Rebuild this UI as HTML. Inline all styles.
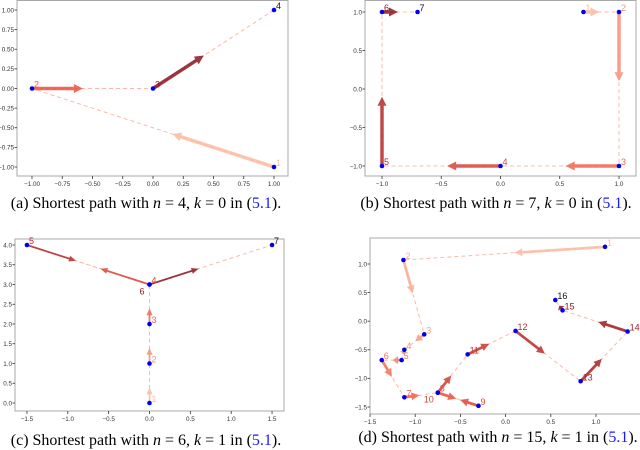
<!DOCTYPE html>
<html><head><meta charset="utf-8">
<style>
body{margin:0;background:#fff;width:640px;height:450px;overflow:hidden}
svg{display:block}
.tick{font:6.3px "Liberation Sans",sans-serif;fill:#333}
.cap{font:16px "Liberation Serif",serif;fill:#000}
.lbl{font:9px "Liberation Sans",sans-serif}
</style></head>
<body>
<svg id="fig" width="640" height="450" viewBox="0 0 640 450">
<text class="cap" x="146" y="208" text-anchor="middle">(a) Shortest path with <tspan font-style="italic">n</tspan> = 4, <tspan font-style="italic">k</tspan> = 0 in (<tspan fill="#1a1aff">5.1</tspan>).</text>
<text class="cap" x="496" y="208" text-anchor="middle">(b) Shortest path with <tspan font-style="italic">n</tspan> = 7, <tspan font-style="italic">k</tspan> = 0 in (<tspan fill="#1a1aff">5.1</tspan>).</text>
<text class="cap" x="146" y="445" text-anchor="middle">(c) Shortest path with <tspan font-style="italic">n</tspan> = 6, <tspan font-style="italic">k</tspan> = 1 in (<tspan fill="#1a1aff">5.1</tspan>).</text>
<text class="cap" x="498" y="442" text-anchor="middle">(d) Shortest path with <tspan font-style="italic">n</tspan> = 15, <tspan font-style="italic">k</tspan> = 1 in (<tspan fill="#1a1aff">5.1</tspan>).</text>
</svg>
<script>
// panel (a)
const aX=[1,-1,0,1];
const aY=[-1,0,0,1];
const aXTicks=[-1,-0.75,-0.5,-0.25,0,0.25,0.5,0.75,1];
const aYTicks=[1,0.75,0.5,0.25,0,-0.25,-0.5,-0.75,-1];
// panel (b)
const bX=[0.7,1,1,0,-1,-1,-0.7];
const bY=[1,1,-1,-1,-1,1,1];
const bXTicks=[-1,-0.5,0,0.5,1];
const bYTicks=[1,0.5,0,-0.5,-1];
// panel (c)
const cX=[0,0,0,0,-1.5,0,1.5];
const cY=[0,1,2,3,4,3,4];
const cLabels=["1","2","3","4","5","6","7"];
const cXTicks=[-1.5,-1,-0.5,0,0.5,1,1.5];
const cYTicks=[0,0.5,1,1.5,2,2.5,3,3.5,4];
// panel (d)
const dX=[1.1,-1.13,-0.9,-1.12,-1.15,-1.37,-1.12,-0.75,-0.3,-0.75,-0.42,0.11,0.83,1.35,0.63,0.55];
const dY=[1.3,1.07,-0.23,-0.5,-0.68,-0.68,-1.33,-1.25,-1.48,-1.25,-0.58,-0.17,-1.05,-0.18,0.19,0.37];
const dXTicks=[-1.5,-1,-0.5,0,0.5,1];
const dYTicks=[1,0.5,0,-0.5,-1,-1.5];

const NS="http://www.w3.org/2000/svg";
const svg=document.getElementById('fig');
function mk(tag,attrs){const e=document.createElementNS(NS,tag);for(const k in attrs)e.setAttribute(k,attrs[k]);svg.appendChild(e);return e;}
function lerp(a,b,t){return a+(b-a)*t}
function cmap(t){
  const c0=[252,187,161],c1=[239,80,60],c2=[140,20,30];
  let a,b,u; if(t<0.5){a=c0;b=c1;u=t*2}else{a=c1;b=c2;u=(t-0.5)*2}
  return `rgb(${Math.round(lerp(a[0],b[0],u))},${Math.round(lerp(a[1],b[1],u))},${Math.round(lerp(a[2],b[2],u))})`;
}
function fmt(v,d){let s=v.toFixed(d);return s.replace('-','\u2212');}
function panel(p){
  const sx=v=>p.x0+(v-p.xa)*p.kx, sy=v=>p.y0-(v-p.ya)*p.ky;
  const fr=mk('rect',{x:p.fl,y:p.ft,width:p.fr-p.fl,height:p.fb-p.ft,fill:'none',stroke:'#aaa','stroke-width':1});
  
  
  p.xt.forEach(v=>{const X=sx(v);
    mk('line',{x1:X,y1:p.fb,x2:X,y2:p.fb+3,stroke:'#333','stroke-width':0.8});
    const t=mk('text',{class:'tick',x:X,y:p.fb+10,'text-anchor':'middle'});t.textContent=fmt(v,p.d);
    
    });
  p.yt.forEach(v=>{const Y=sy(v);
    mk('line',{x1:p.fl-2.5,y1:Y,x2:p.fl,y2:Y,stroke:'#333','stroke-width':0.8});
    const t=mk('text',{class:'tick',x:p.fl-3,y:Y+2.3,'text-anchor':'end'});t.textContent=fmt(v,p.d);
    
    });
  const n=p.X.length;
  for(let i=0;i<n-1;i++){
    const l=mk('line',{x1:sx(p.X[i]),y1:sy(p.Y[i]),x2:sx(p.X[i+1]),y2:sy(p.Y[i+1]),stroke:'#ffb8a8','stroke-width':1,'stroke-dasharray':'4,3'});
    
    
  }
  for(let i=0;i<n-1;i++){
    const x1=sx(p.X[i]),y1=sy(p.Y[i]);
    const x2=x1+(sx(p.X[i+1])-x1)*p.frac,y2=y1+(sy(p.Y[i+1])-y1)*p.frac;
    const dx=x2-x1,dy=y2-y1,L=Math.hypot(dx,dy);if(L<1)continue;
    const ux=dx/L,uy=dy/L,nx=-uy,ny=ux,hl=Math.min(p.hl,L*0.6),hw=p.hw,sw=p.sw;
    const bx=x2-ux*hl,by=y2-uy*hl;
    const pts=[[x1+nx*sw/2,y1+ny*sw/2],[bx+nx*sw/2,by+ny*sw/2],[bx+nx*hw/2,by+ny*hw/2],[x2,y2],[bx-nx*hw/2,by-ny*hw/2],[bx-nx*sw/2,by-ny*sw/2],[x1-nx*sw/2,y1-ny*sw/2]];
    const a=mk('polygon',{points:pts.map(q=>q.join(',')).join(' '),fill:cmap(i/(n-2)),'fill-opacity':0.85});
    
    
  }
  for(let i=0;i<n;i++){
    const c=mk('circle',{cx:sx(p.X[i]),cy:sy(p.Y[i]),r:2.3,fill:'#0000ee'});
    
    
    const lab=p.labels?p.labels[i]:String(i+1);
    const col=i===n-1?'#111':cmap(Math.min(1,i/(n-2)));
    let ox=2,oy=-1;
    if(p.id==='c'&&lab==='6'){ox=-10;oy=10;}
    if(p.id==='d'&&lab==='10'){ox=-14;oy=10;}
    const t=mk('text',{class:'lbl',x:sx(p.X[i])+ox,y:sy(p.Y[i])+oy,fill:col});t.textContent=lab;
    
    
  }
}
panel({id:'a',X:aX,Y:aY,xt:aXTicks,yt:aYTicks,d:2,x0:153,xa:0,kx:121,y0:88.5,ya:0,ky:78.5,fl:17,fr:288,ft:0.5,fb:176,frac:0.42,sw:3.5,hw:9,hl:9});
panel({id:'b',X:bX,Y:bY,xt:bXTicks,yt:bYTicks,d:1,x0:500.5,xa:0,kx:118.5,y0:89,ya:0,ky:77,fl:365,fr:636,ft:0.5,fb:176,frac:0.45,sw:3.5,hw:9,hl:9});
panel({id:'c',X:cX,Y:cY,labels:cLabels,xt:cXTicks,yt:cYTicks,d:1,x0:149.5,xa:0,kx:81.7,y0:403,ya:0,ky:39.5,fl:15,fr:284,ft:239,fb:411,frac:0.4,sw:1.8,hw:6,hl:7});
panel({id:'d',X:dX,Y:dY,xt:dXTicks,yt:dYTicks,d:1,x0:370,xa:-1.5,kx:90.4,y0:264,ya:1,ky:57.2,fl:370,fr:641,ft:238,fb:414,frac:0.45,sw:2.8,hw:8,hl:8});
</script>
</body></html>
